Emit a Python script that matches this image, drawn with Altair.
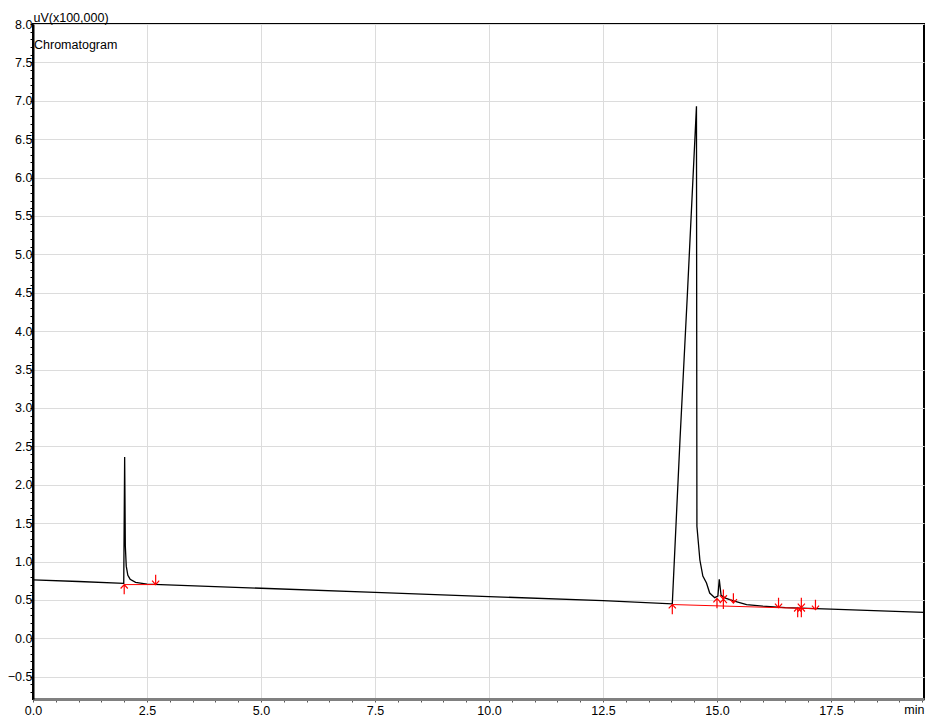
import altair as alt
import pandas as pd

# detector trace: minutes vs uV (x100,000)
trace_t = [0.0, 1.0, 1.99, 2.01, 2.025, 2.045, 2.08, 2.13, 2.25, 2.5, 5.0, 7.5,
           10.0, 12.5, 14.02, 14.19, 14.35, 14.55, 14.56, 14.625, 14.69, 14.77,
           14.84, 14.95, 15.02, 15.05, 15.09, 15.2, 15.4, 15.65, 16.0, 16.5,
           17.5, 19.54]
trace_v = [0.76, 0.74, 0.717, 2.36, 1.2, 0.94, 0.82, 0.77, 0.73, 0.707, 0.652,
           0.598, 0.544, 0.49, 0.45, 2.6, 4.47, 6.93, 1.46, 1.02, 0.81, 0.72,
           0.59, 0.53, 0.55, 0.77, 0.56, 0.52, 0.48, 0.44, 0.42, 0.40, 0.38,
           0.338]

# integration baselines (red)
base_id = ["a", "a", "b", "b"]
base_t = [2.0, 2.69, 14.02, 17.18]
base_v = [0.70, 0.70, 0.44, 0.385]

# peak start / end markers
mark_t = [2.00, 2.69, 14.02, 15.00, 15.14, 15.36, 16.35, 16.77, 16.85, 17.16]
mark_v = [0.70, 0.70, 0.44, 0.52, 0.51, 0.46, 0.40, 0.40, 0.40, 0.375]
mark_kind = ["start", "end", "start", "start", "both", "end", "end", "start",
             "both", "end"]

x_ticks = [i * 0.5 for i in range(40)]
y_ticks = [round(-0.7 + i * 0.1, 1) for i in range(88)]

W, H = 891, 675
FONT = "Liberation Sans"

trace = pd.DataFrame({"t": trace_t, "v": trace_v})
base = pd.DataFrame({"t": base_t, "v": base_v, "seg": base_id})
marks = pd.DataFrame({"t": mark_t, "v": mark_v, "kind": mark_kind})
label = pd.DataFrame({"txt": ["Chromatogram"]})

x = alt.X("t:Q",
          scale=alt.Scale(domain=[0, 19.54], nice=False, zero=False),
          axis=alt.Axis(values=x_ticks,
                        labelExpr="datum.value % 2.5 === 0 ? format(datum.value, '.1f') : ''",
                        gridOpacity={"condition": {"test": "datum.value % 2.5 === 0", "value": 1}, "value": 0},
                        gridColor="#dcdcdc", tickSize=3, tickColor="#555",
                        domainColor="#808080", domainWidth=3,
                        labelFlush=False, labelOverlap=False, labelPadding=2,
                        labelFontSize=12.5, labelColor="black",
                        title="min", titleX=W, titleY=10, titleAlign="right",
                        titleBaseline="middle", titleFontWeight="normal",
                        titleFontSize=12.5, titleColor="black"))

y = alt.Y("v:Q",
          scale=alt.Scale(domain=[-0.79, 8.0], nice=False, zero=False),
          axis=alt.Axis(values=y_ticks,
                        labelExpr="abs(datum.value % 0.5) < 1e-6 ? format(datum.value, '.1f') : ''",
                        gridOpacity={"condition": {"test": "abs(datum.value % 0.5) < 1e-6", "value": 1}, "value": 0},
                        gridColor="#dcdcdc", tickSize=3, tickColor="black",
                        domainColor="black", domainWidth=2,
                        labelOverlap=False, labelFlush=False, labelPadding=-2,
                        labelFontSize=12.5, labelColor="black",
                        title="uV(x100,000)", titleAngle=0, titleX=0, titleY=-3,
                        titleAlign="left", titleBaseline="alphabetic",
                        titleFontWeight="normal", titleFontSize=12.5,
                        titleColor="black"))

line = alt.Chart(trace).mark_line(color="black", strokeWidth=1.3).encode(x=x, y=y)

red = alt.Chart(base).mark_line(color="#ff0000", strokeWidth=1).encode(
    x=x, y=y, detail="seg:N")

up = "M0,0L0,1.5M-0.55,0.6L0,0L0.55,0.6"
down = "M0,0L0,-1.5M-0.55,-0.6L0,0L0.55,-0.6"
both = up + down

pts = alt.Chart(marks).mark_point(filled=False, color="#ff0000", size=169,
                                  strokeWidth=1.2, opacity=1).encode(
    x=x, y=y,
    shape=alt.Shape("kind:N",
                    scale=alt.Scale(domain=["start", "end", "both"],
                                    range=[up, down, both]),
                    legend=None))

txt = alt.Chart(label).mark_text(align="left", baseline="middle", fontSize=12.5,
                                 font=FONT, color="black").encode(
    x=alt.value(1), y=alt.value(21), text="txt:N")

chart = alt.layer(line, red, pts, txt).properties(
    width=W, height=H,
    autosize=alt.AutoSizeParams(type="none"),
    padding={"left": 25, "top": 16, "right": 1, "bottom": 17},
).configure(font=FONT).configure_view(stroke="black", strokeWidth=2)

chart.save("out.html", embed_options={"renderer": "svg", "actions": False})
